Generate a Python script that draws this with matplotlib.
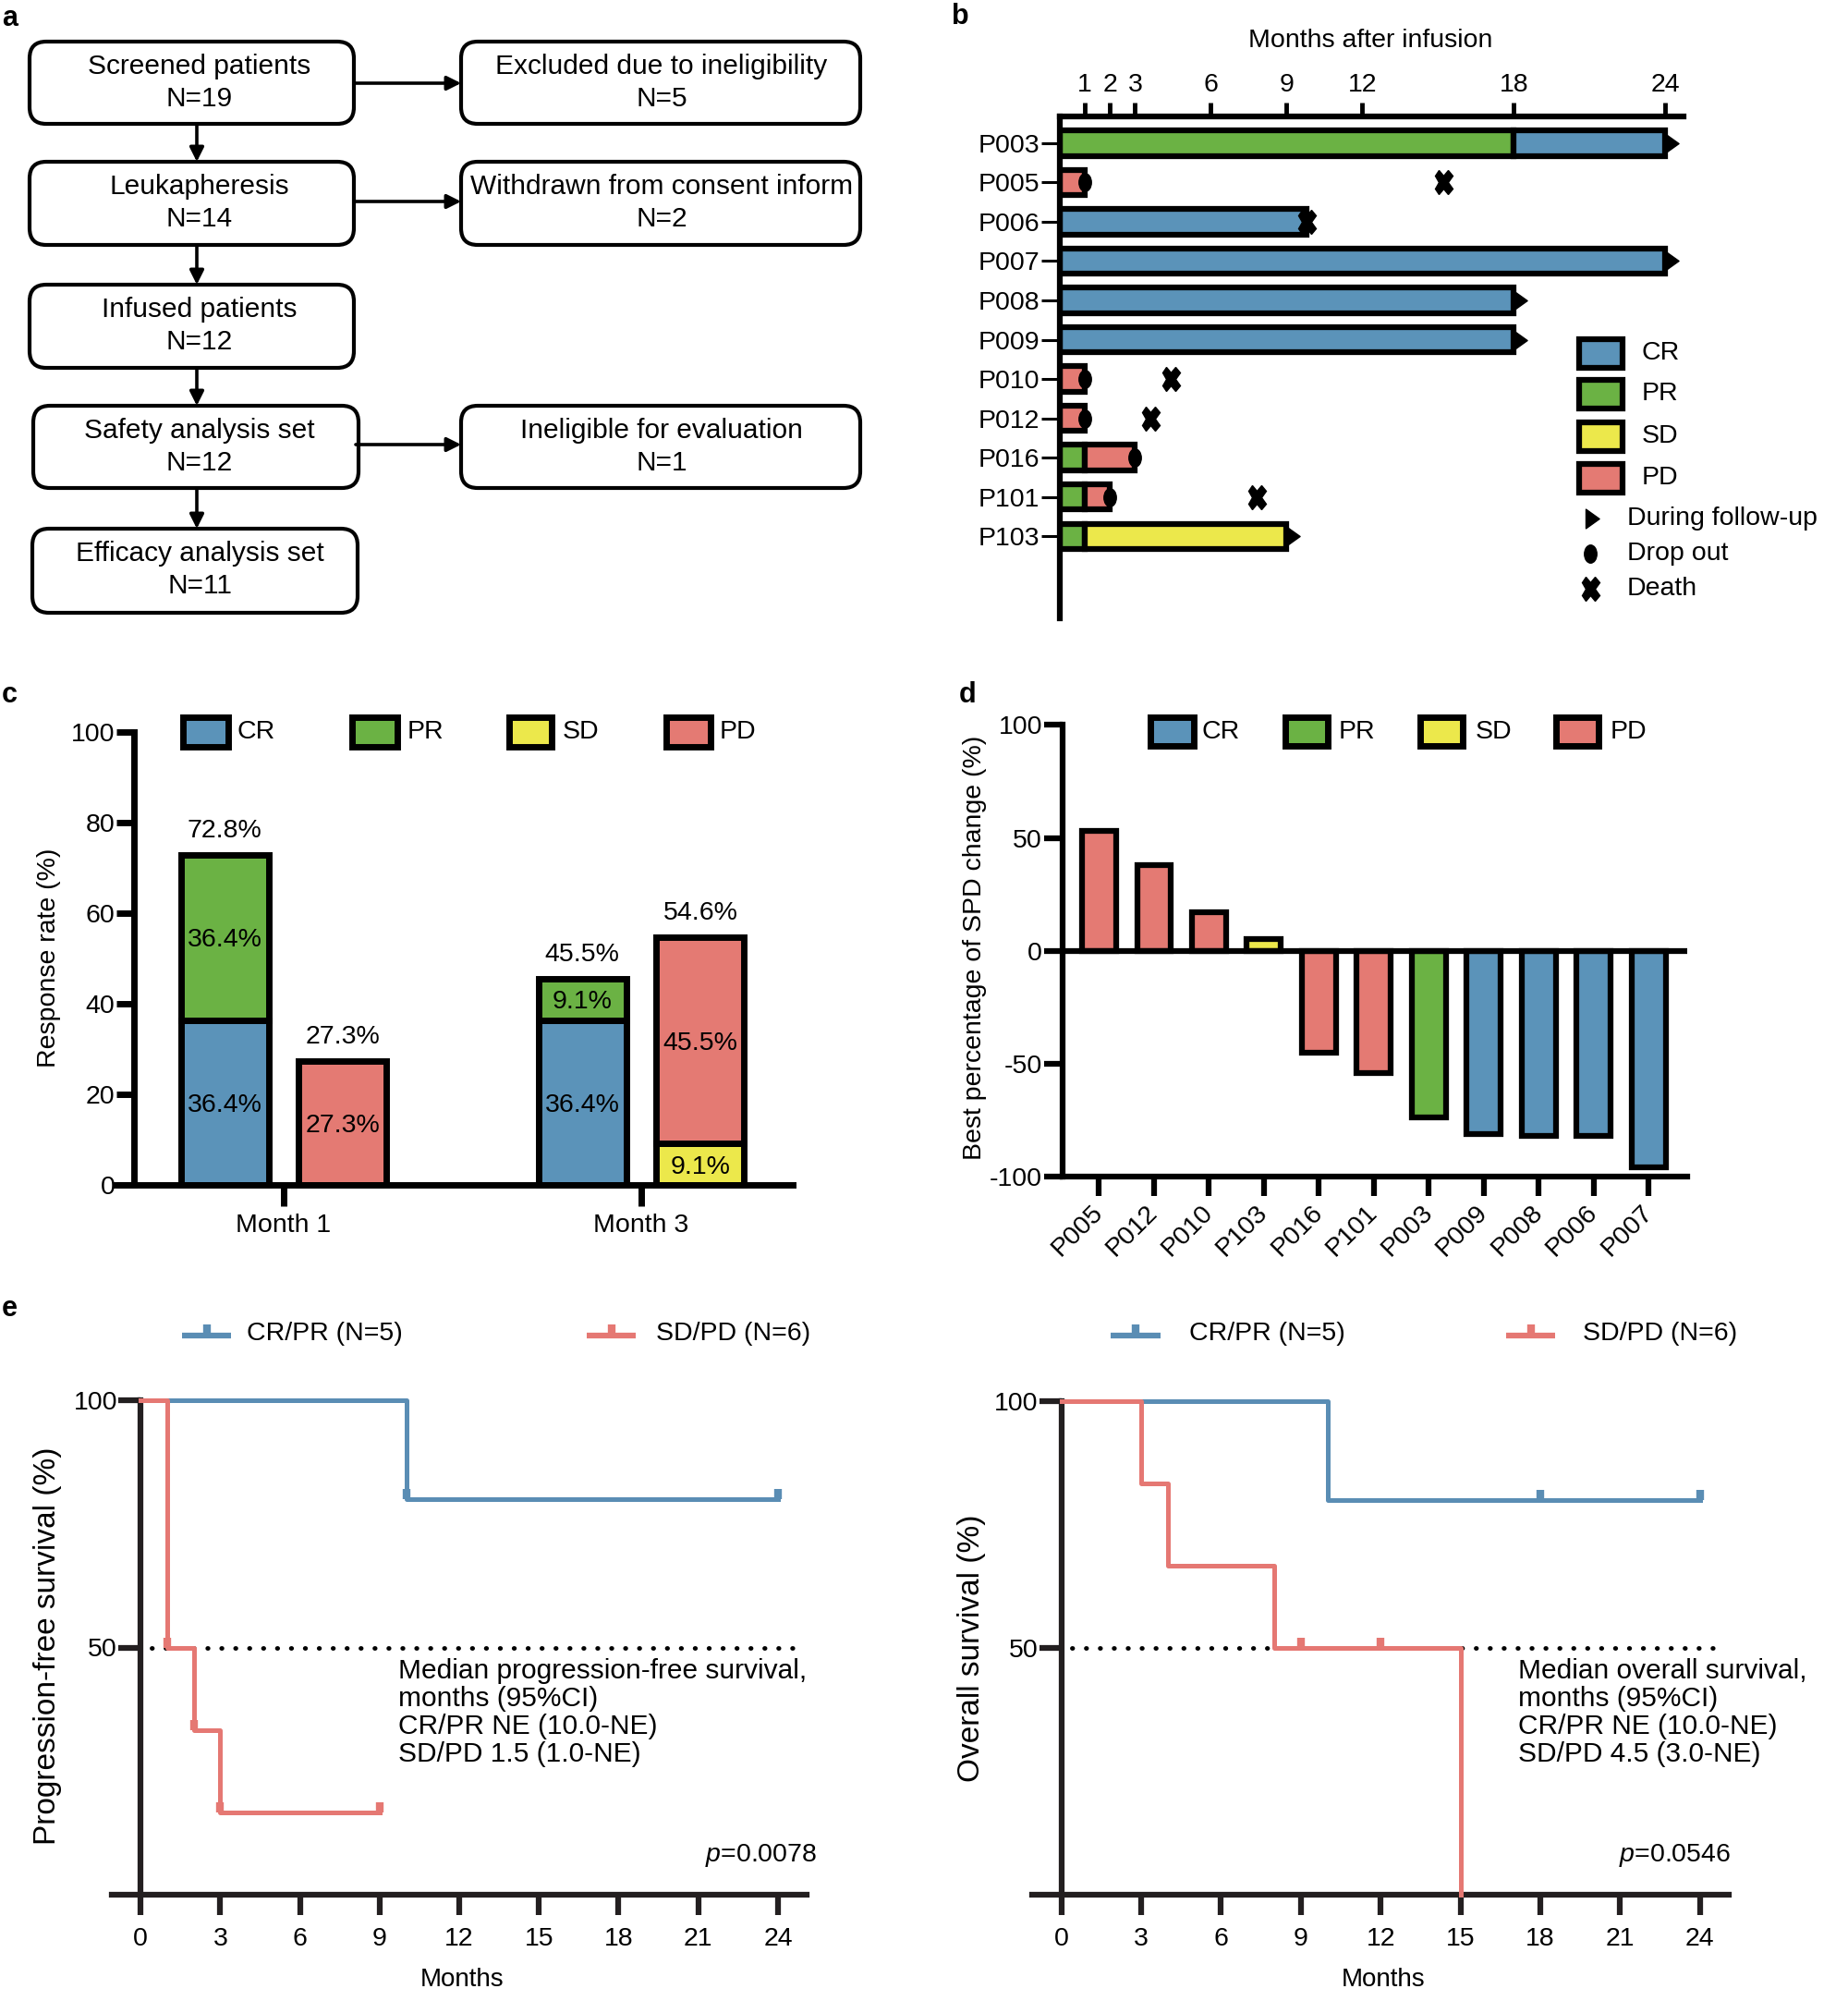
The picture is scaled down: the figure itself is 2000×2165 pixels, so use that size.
import numpy as np
import matplotlib
matplotlib.use('Agg')
import matplotlib.pyplot as plt
from matplotlib.patches import FancyBboxPatch, Rectangle
from matplotlib.path import Path
from matplotlib.markers import MarkerStyle
from matplotlib.transforms import Affine2D

plt.rcParams['font.family'] = ['Liberation Sans', 'DejaVu Sans']
plt.rcParams['font.size'] = 20.5
plt.rcParams['axes.unicode_minus'] = False
plt.rcParams['mathtext.fontset'] = 'custom'
plt.rcParams['mathtext.it'] = 'Liberation Sans:italic'
plt.rcParams['mathtext.rm'] = 'Liberation Sans'

# ---------------- data ----------------
# a: flowchart
flow_left = [("Screened patients", "N=19"), ("Leukapheresis", "N=14"),
             ("Infused patients", "N=12"), ("Safety analysis set", "N=12"),
             ("Efficacy analysis set", "N=11")]
flow_right = [("Excluded due to ineligibility", "N=5"),
              ("Withdrawn from consent inform", "N=2"), None,
              ("Ineligible for evaluation", "N=1"), None]

# b: swimmer plot
swim_patients = ['P003', 'P005', 'P006', 'P007', 'P008', 'P009',
                 'P010', 'P012', 'P016', 'P101', 'P103']
seg_patient = ['P003', 'P003', 'P005', 'P006', 'P007', 'P008', 'P009',
               'P010', 'P012', 'P016', 'P016', 'P101', 'P101', 'P103', 'P103']
seg_status = ['PR', 'CR', 'PD', 'CR', 'CR', 'CR', 'CR',
              'PD', 'PD', 'PR', 'PD', 'PR', 'PD', 'PR', 'SD']
seg_start = [0, 18, 0, 0, 0, 0, 0, 0, 0, 0, 1, 0, 1, 0, 1]
seg_end = [18, 24, 1, 9.8, 24, 18, 18, 1, 1, 1, 3, 1, 2, 1, 9]
followup_patient = ['P003', 'P007', 'P008', 'P009', 'P103']
followup_month = [24, 24, 18, 18, 9]
dropout_patient = ['P005', 'P010', 'P012', 'P016', 'P101']
dropout_month = [1, 1, 1, 3, 2]
death_patient = ['P005', 'P006', 'P010', 'P012', 'P101']
death_month = [15.2, 9.8, 4.4, 3.6, 7.8]
swim_ticks = [1, 2, 3, 6, 9, 12, 18, 24]

# c: response rate
months = ['Month 1', 'Month 3']
resp_CR = [36.4, 36.4]
resp_PR = [36.4, 9.1]
non_SD = [0.0, 9.1]
non_PD = [27.3, 45.5]

# d: waterfall
wf_patients = ['P005', 'P012', 'P010', 'P103', 'P016', 'P101',
               'P003', 'P009', 'P008', 'P006', 'P007']
wf_values = [53, 38, 17, 5, -45, -54, -74, -81, -82, -82, -96]
wf_status = ['PD', 'PD', 'PD', 'SD', 'PD', 'PD', 'PR', 'CR', 'CR', 'CR', 'CR']

# e: Kaplan-Meier
pfs_crpr_t = [0, 10, 24]
pfs_crpr_s = [100, 80, 80]
pfs_crpr_ct = [10, 24]
pfs_crpr_cs = [80, 80]
pfs_sdpd_t = [0, 1, 2, 3, 9]
pfs_sdpd_s = [100, 50, 33.3, 16.7, 16.7]
pfs_sdpd_ct = [1, 2, 3, 9]
pfs_sdpd_cs = [50, 33.3, 16.7, 16.7]
os_crpr_t = [0, 10, 24]
os_crpr_s = [100, 80, 80]
os_crpr_ct = [18, 24]
os_crpr_cs = [80, 80]
os_sdpd_t = [0, 3, 4, 8, 15]
os_sdpd_s = [100, 83.3, 66.7, 50, 0]
os_sdpd_ct = [9, 12]
os_sdpd_cs = [50, 50]
km_ticks = [0, 3, 6, 9, 12, 15, 18, 21, 24]

# ---------------- style ----------------
C_CR = '#5b93b9'
C_PR = '#6bb244'
C_SD = '#ece84b'
C_PD = '#e47a73'
KM_BLUE = '#5a8db4'
KM_RED = '#e57873'
status_color = {'CR': C_CR, 'PR': C_PR, 'SD': C_SD, 'PD': C_PD}

W, H = 2000, 2165
fig = plt.figure(figsize=(W / 100, H / 100), dpi=100)


def add_ax(x0, x1, y0, y1):
    ax = fig.add_axes([x0 / W, 1 - y1 / H, (x1 - x0) / W, (y1 - y0) / H])
    ax.patch.set_visible(False)
    return ax


ov = fig.add_axes([0, 0, 1, 1])
ov.set_xlim(0, W)
ov.set_ylim(H, 0)
ov.axis('off')

# markers
tri = Path([(0, -1), (1.4, 0), (0, 1), (0, -1)],
           [Path.MOVETO, Path.LINETO, Path.LINETO, Path.CLOSEPOLY])
ell = Affine2D().scale(0.69, 1.0).transform_path(Path.unit_circle())
xmark = MarkerStyle('X', transform=Affine2D().scale(0.72, 1.0))
cens = Path([(0, 0), (0, 1)], [Path.MOVETO, Path.LINETO])

# panel labels
for lab, (x, y) in {'a': (2, 20), 'b': (1030, 18), 'c': (2, 752),
                    'd': (1038, 752), 'e': (2, 1416)}.items():
    ov.text(x, y, lab, fontsize=22, fontweight='bold', ha='left', va='center')

# ---------------- a ----------------
left_boxes = [(32, 383, 45, 134), (32, 383, 175, 265), (32, 383, 308, 398),
              (36, 388, 439, 528), (35, 387, 572, 663)]
right_boxes = [(499, 931, 45, 134), (499, 931, 175, 265), None,
               (499, 931, 439, 528), None]
for texts, boxes, tx in [(flow_left, left_boxes, 216), (flow_right, right_boxes, 716)]:
    for t, b in zip(texts, boxes):
        if t is None:
            continue
        x0, x1, y0, y1 = b
        ov.add_patch(FancyBboxPatch((x0, y0), x1 - x0, y1 - y0,
                                    boxstyle='round,pad=0,rounding_size=18',
                                    fc='white', ec='k', lw=3))
        ov.text(tx, y0 + 27, t[0], ha='center', va='center', fontsize=21.5)
        ov.text(tx, y0 + 62, t[1], ha='center', va='center', fontsize=21.5)

arrow_kw = dict(arrowstyle='-|>,head_length=0.7,head_width=0.35', lw=2.6,
                color='k', shrinkA=0, shrinkB=0, mutation_scale=13)
for ya, yb in [(134, 175), (265, 308), (398, 439), (528, 572)]:
    ov.annotate('', xy=(213, yb), xytext=(213, ya), arrowprops=arrow_kw)
for y in [90, 218, 481]:
    ov.annotate('', xy=(499, y), xytext=(385, y), arrowprops=arrow_kw)

# ---------------- b ----------------
axb = add_ax(1146.5, 1821.5, 126, 669)
row = {p: i for i, p in enumerate(swim_patients)}
axb.barh([row[p] for p in seg_patient],
         [e - s for s, e in zip(seg_start, seg_end)], left=seg_start,
         height=0.64, color=[status_color[s] for s in seg_status],
         edgecolor='k', linewidth=4.5, zorder=2)
axb.plot(followup_month, [row[p] for p in followup_patient], ls='none',
         marker=tri, ms=21, color='k', clip_on=False, zorder=3)
axb.plot(dropout_month, [row[p] for p in dropout_patient], ls='none',
         marker=ell, ms=14, color='k', clip_on=False, zorder=3)
axb.plot(death_month, [row[p] for p in death_patient], ls='none',
         marker=xmark, ms=19, color='k', clip_on=False, zorder=3)
axb.set_xlim(0, 24.7)
axb.set_ylim(12.09, -0.68)
axb.xaxis.tick_top()
axb.set_xticks(swim_ticks)
axb.set_xticklabels([str(t) for t in swim_ticks])
axb.set_yticks(range(len(swim_patients)))
axb.set_yticklabels(swim_patients)
axb.tick_params(axis='x', direction='out', length=10.8, width=3.5, pad=4, labelsize=20.5)
axb.tick_params(axis='y', direction='out', length=14.4, width=2.2, pad=1, labelsize=20.5)
for s in ['bottom', 'right']:
    axb.spines[s].set_visible(False)
for s in ['top', 'left']:
    axb.spines[s].set_linewidth(4.5)
ov.text(1483, 44, 'Months after infusion', ha='center', va='center', fontsize=20.5)

# legend b
for name, yc in zip(['CR', 'PR', 'SD', 'PD'], [382, 426, 472, 517]):
    ov.add_patch(Rectangle((1709, yc - 15.5), 47, 31, fc=status_color[name], ec='k', lw=4.5))
    ov.text(1777, yc, name, ha='left', va='center', fontsize=20.5)
ov.plot([1716], [561], marker=tri, ms=21, color='k', ls='none')
ov.plot([1721], [599], marker=ell, ms=14, color='k', ls='none')
ov.plot([1721], [637], marker=xmark, ms=19, color='k', ls='none')
for txt, yc in zip(['During follow-up', 'Drop out', 'Death'], [561, 599, 637]):
    ov.text(1761, yc, txt, ha='left', va='center', fontsize=20.5)

# ---------------- c ----------------
axc = add_ax(126, 858, 792, 1282)
x = np.arange(len(months))
off, bw = 0.165, 0.245
bar_kw = dict(edgecolor='k', linewidth=5, clip_on=False, zorder=2)
axc.bar(x - off, resp_CR, bw, color=C_CR, **bar_kw)
axc.bar(x - off, resp_PR, bw, bottom=resp_CR, color=C_PR, **bar_kw)
for i in range(len(months)):
    if non_SD[i] > 0:
        axc.bar(x[i] + off, non_SD[i], bw, color=C_SD, **bar_kw)
axc.bar(x + off, non_PD, bw, bottom=non_SD, color=C_PD, **bar_kw)
for i in range(len(months)):
    segs = [(x[i] - off, 0, resp_CR[i]), (x[i] - off, resp_CR[i], resp_PR[i]),
            (x[i] + off, 0, non_SD[i]), (x[i] + off, non_SD[i], non_PD[i])]
    for xx, b0, h in segs:
        if h > 0:
            axc.text(xx, b0 + h / 2 - 0.6, f'{h:.1f}%', ha='center', va='center', fontsize=20.5)
    for xx, tot in [(x[i] - off, resp_CR[i] + resp_PR[i]), (x[i] + off, non_SD[i] + non_PD[i])]:
        axc.annotate(f'{tot:.1f}%', (xx, tot), xytext=(0, 19), textcoords='offset points',
                     ha='center', va='center', fontsize=20.5)
axc.set_xlim(-0.4677, 1.4238)
axc.set_ylim(0, 100)
axc.spines['left'].set_position(('data', -0.419))
for s in ['top', 'right']:
    axc.spines[s].set_visible(False)
for s in ['left', 'bottom']:
    axc.spines[s].set_linewidth(5)
axc.set_yticks([0, 20, 40, 60, 80, 100])
axc.set_xticks(x)
axc.set_xticklabels(months)
axc.tick_params(axis='y', length=13.7, width=5, pad=1, labelsize=20.5)
axc.tick_params(axis='x', length=16.5, width=5, pad=6, labelsize=20.5)
axc.set_ylabel('Response rate (%)', fontsize=20.5)
axc.yaxis.set_label_coords(-0.082, 0.502)

for name, (xa, xb), xt in zip(['CR', 'PR', 'SD', 'PD'],
                              [(198, 247), (381, 430), (551, 597), (721, 769)],
                              [257, 441, 609, 779]):
    ov.add_patch(Rectangle((xa, 776), xb - xa, 32, fc=status_color[name], ec='k', lw=5))
    ov.text(xt, 792, name, ha='left', va='center', fontsize=20.5)

# ---------------- d ----------------
axd = add_ax(1149.5, 1826, 784.4, 1273)
xd = np.arange(len(wf_patients))
axd.bar(xd, wf_values, 0.62, color=[status_color[s] for s in wf_status],
        edgecolor='k', linewidth=4.5, zorder=2, clip_on=False)
axd.axhline(0, color='k', lw=4.5, zorder=3)
axd.set_xlim(-0.672, 10.70)
axd.set_ylim(-100, 100)
for s in ['top', 'right']:
    axd.spines[s].set_visible(False)
for s in ['left', 'bottom']:
    axd.spines[s].set_linewidth(4.5)
axd.set_yticks([-100, -50, 0, 50, 100])
axd.set_yticklabels(['-100', '-50', '0', '50', '100'])
axd.set_xticks(xd)
axd.set_xticklabels(wf_patients, rotation=45, ha='right', va='center', rotation_mode='anchor')
axd.tick_params(axis='y', length=14.5, width=4.5, pad=1, labelsize=20.5)
axd.tick_params(axis='x', length=15, width=4.5, pad=10, labelsize=20.5)
axd.set_ylabel('Best percentage of SPD change (%)', fontsize=20.5)
axd.yaxis.set_label_coords(-0.1205, 0.5076)

for name, (xa, xb), xt in zip(['CR', 'PR', 'SD', 'PD'],
                              [(1245, 1292), (1391, 1437), (1537, 1583), (1684, 1730)],
                              [1300, 1449, 1597, 1743]):
    ov.add_patch(Rectangle((xa, 776), xb - xa, 31, fc=status_color[name], ec='k', lw=5))
    ov.text(xt, 792, name, ha='left', va='center', fontsize=20.5)


# ---------------- e ----------------
def km_panel(ax, curves, ylabel):
    ax.plot([0.4, 24.8], [50, 50], color='k', lw=3.5, ls=(0, (0.1, 3.0)),
            dash_capstyle='round', zorder=2, clip_on=False)
    for t, s, ct, cs, col in curves:
        ax.step(t, s, where='post', color=col, lw=3.6, clip_on=False, zorder=3)
        ax.plot(ct, cs, ls='none', marker=cens, ms=16, mew=6, mec=col,
                clip_on=False, zorder=3)
    ax.set_xlim(-1.1, 25.08)
    ax.set_ylim(0, 100)
    ax.spines['left'].set_position(('data', 0))
    for s in ['top', 'right']:
        ax.spines[s].set_visible(False)
    for s in ['left', 'bottom']:
        ax.spines[s].set_linewidth(4.5)
        ax.spines[s].set_color('#231f20')
    ax.set_xticks(km_ticks)
    ax.set_yticks([50, 100])
    ax.tick_params(axis='x', length=16, width=4.5, pad=9, labelsize=20.5, color='#231f20')
    ax.tick_params(axis='y', length=17, width=4.5, pad=1, labelsize=20.5, color='#231f20')
    ax.set_xlabel('Months', fontsize=20, va='center')
    ax.xaxis.set_label_coords(0.504, -0.172)
    ax.set_ylabel(ylabel, fontsize=24)


axe1 = add_ax(120.5, 873, 1515, 2050)
km_panel(axe1, [(pfs_crpr_t, pfs_crpr_s, pfs_crpr_ct, pfs_crpr_cs, KM_BLUE),
                (pfs_sdpd_t, pfs_sdpd_s, pfs_sdpd_ct, pfs_sdpd_cs, KM_RED)],
         'Progression-free survival (%)')
axe1.yaxis.set_label_coords(-0.0711, 0.503)

axe2 = add_ax(1117, 1871, 1516, 2050)
km_panel(axe2, [(os_crpr_t, os_crpr_s, os_crpr_ct, os_crpr_cs, KM_BLUE),
                (os_sdpd_t, os_sdpd_s, os_sdpd_ct, os_sdpd_cs, KM_RED)],
         'Overall survival (%)')
axe2.yaxis.set_label_coords(-0.0663, 0.5)

med_left = ['Median progression-free survival,', 'months (95%CI)',
            'CR/PR NE (10.0-NE)', 'SD/PD 1.5 (1.0-NE)']
med_right = ['Median overall survival,', 'months (95%CI)',
             'CR/PR NE (10.0-NE)', 'SD/PD 4.5 (3.0-NE)']
for lines, xl in [(med_left, 431), (med_right, 1643)]:
    for k, ln in enumerate(lines):
        ov.text(xl, 1808 + 30 * k, ln, ha='left', va='center', fontsize=21.5)
ov.text(884, 2008, r'$p$=0.0078', ha='right', va='center', fontsize=20.5)
ov.text(1873, 2008, r'$p$=0.0546', ha='right', va='center', fontsize=20.5)

for (xa, xb, xt, col, lab) in [(197, 250, 267, KM_BLUE, 'CR/PR (N=5)'),
                               (635, 688, 710, KM_RED, 'SD/PD (N=6)'),
                               (1202, 1256, 1287, KM_BLUE, 'CR/PR (N=5)'),
                               (1630, 1683, 1713, KM_RED, 'SD/PD (N=6)')]:
    ov.plot([xa, xb], [1445, 1445], color=col, lw=4.5, solid_capstyle='butt')
    ov.plot([(xa + xb) / 2], [1443], ls='none', marker=cens, ms=14, mew=6, mec=col)
    ov.text(xt, 1443, lab, ha='left', va='center', fontsize=20.5)

fig.savefig('out.png', dpi=100)
